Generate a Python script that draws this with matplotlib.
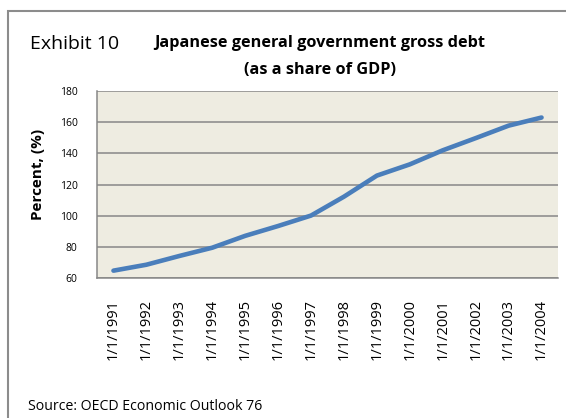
"""
日本一般政府总债务占GDP比重 折线图
"""
import matplotlib
matplotlib.use('Agg')
import matplotlib.pyplot as plt
from matplotlib.patches import Rectangle

plt.rcParams['font.family'] = ['Open Sans', 'DejaVu Sans']

# 数据 (OECD Economic Outlook 76)
years = ['1/1/1991', '1/1/1992', '1/1/1993', '1/1/1994', '1/1/1995', '1/1/1996', '1/1/1997',
         '1/1/1998', '1/1/1999', '1/1/2000', '1/1/2001', '1/1/2002', '1/1/2003', '1/1/2004']
debt_pct = [64.9, 68.7, 74.3, 79.6, 87.2, 93.5, 100.2, 112.3, 125.8, 133.0, 142.0, 149.8, 157.8, 163.0]
y_ticks = [60, 80, 100, 120, 140, 160, 180]

W, H = 566, 418
fig = plt.figure(figsize=(W / 100, H / 100), dpi=100)
fig.patch.set_facecolor('white')

# 外框 (只露出左边和上边)
frame = Rectangle((7.5 / W, -0.1), 1.2, 1 - 11 / H + 0.1, transform=fig.transFigure,
                  fill=False, edgecolor='#8c8c8c', linewidth=1.5)
fig.patches.append(frame)

ax = fig.add_axes([97 / W, 1 - 278.3 / H, 461 / W, (278.3 - 91) / H])
ax.set_facecolor('#eeece1')

x = list(range(len(years)))
ax.plot(x, debt_pct, color='#4a7ebb', linewidth=3.3, solid_capstyle='round',
        solid_joinstyle='round', zorder=3)

ax.set_xlim(-0.5, len(years) - 0.5)
ax.set_ylim(60, 180)
ax.set_yticks(y_ticks)
ax.set_xticks(x)
ax.set_xticklabels(years, rotation=90, fontsize=10.5)
ax.tick_params(axis='x', length=0, pad=15)
ax.tick_params(axis='y', length=0, pad=14, labelsize=7.5)

ax.grid(axis='y', color='#878787', linewidth=1.1, zorder=1)
for side in ['top', 'right']:
    ax.spines[side].set_visible(False)
for side in ['left', 'bottom']:
    ax.spines[side].set_color('#878787')
    ax.spines[side].set_linewidth(1.1)

fig.text(38 / W, 1 - 174 / H, 'Percent, (%)', rotation=90, fontsize=11, fontweight='bold',
         ha='center', va='center')

# 标题
fig.text(30 / W, 1 - 44 / H, 'Exhibit 10', fontsize=14, ha='left', va='center')
fig.text(320 / W, 1 - 43 / H, 'Japanese general government gross debt', fontsize=11.7,
         fontweight='bold', ha='center', va='center')
fig.text(320 / W, 1 - 70 / H, '(as a share of GDP)', fontsize=11.7,
         fontweight='bold', ha='center', va='center')

fig.text(28 / W, 1 - 407 / H, 'Source: OECD Economic Outlook 76', fontsize=10.2,
         ha='left', va='center')

plt.savefig('out.png', dpi=100)
plt.close()
